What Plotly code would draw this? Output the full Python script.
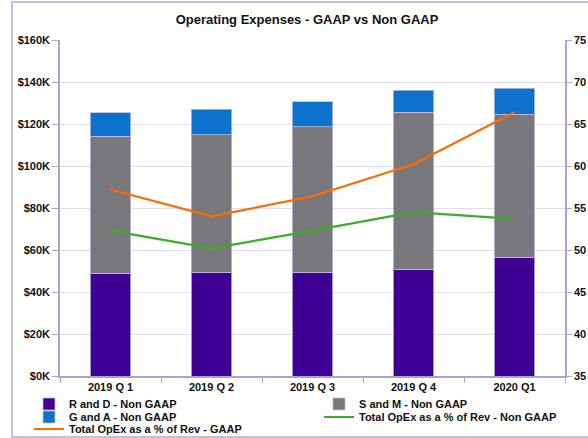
import plotly.graph_objects as go

categories = ["2019 Q 1", "2019 Q 2", "2019 Q 3", "2019 Q 4", "2020 Q1"]
rd_non_gaap = [49000, 49500, 49500, 50800, 56500]
sm_non_gaap = [65100, 65400, 69200, 74800, 68100]
ga_non_gaap = [11300, 12100, 12000, 10400, 12400]
opex_pct_non_gaap = [52.3, 50.2, 52.3, 54.5, 53.7]
opex_pct_gaap = [57.2, 54.0, 56.4, 60.2, 66.4]
left_tickvals = [0, 20000, 40000, 60000, 80000, 100000, 120000, 140000, 160000]
left_ticktext = ["$0K", "$20K", "$40K", "$60K", "$80K", "$100K", "$120K", "$140K", "$160K"]

FONT = "Liberation Sans, Arial, sans-serif"
edge = dict(color="rgba(190,186,225,0.8)", width=1)

fig = go.Figure()
fig.add_trace(go.Bar(x=categories, y=rd_non_gaap, name="R and D - Non GAAP",
                     marker=dict(color="#3e0095", line=edge), width=0.4, legend="legend"))
fig.add_trace(go.Bar(x=categories, y=sm_non_gaap, name="S and M - Non GAAP",
                     marker=dict(color="#78777c", line=edge), width=0.4, legend="legend2"))
fig.add_trace(go.Bar(x=categories, y=ga_non_gaap, name="G and A - Non GAAP",
                     marker=dict(color="#0b72cd", line=edge), width=0.4, legend="legend3"))
fig.add_trace(go.Scatter(x=categories, y=opex_pct_non_gaap, name="Total OpEx as a % of Rev - Non GAAP",
                         mode="lines", line=dict(color="#3aae24", width=2.2), yaxis="y2", legend="legend4"))
fig.add_trace(go.Scatter(x=categories, y=opex_pct_gaap, name="Total OpEx as a % of Rev - GAAP",
                         mode="lines", line=dict(color="#ff6a00", width=2.2), yaxis="y2", legend="legend5"))

tickfont = dict(family=FONT, size=11, color="#111111", weight="bold")
axcol = "#aaa3d0"
gridcol = "#e0deee"

def leg(x, y):
    return dict(x=x, y=y, xanchor="left", yanchor="middle", orientation="h",
                bgcolor="rgba(0,0,0,0)", font=dict(family=FONT, size=11, color="#111111", weight="bold"),
                itemwidth=30, traceorder="normal")

plot_l, plot_r, plot_t, plot_b = 60, 565, 40, 376
pw, ph = plot_r - plot_l, plot_b - plot_t
def px(xp):
    return (xp - plot_l) / pw
def py(yp):
    return (plot_b - yp) / ph

fig.update_layout(
    width=588, height=438,
    barmode="stack",
    showlegend=True,
    paper_bgcolor="white", plot_bgcolor="white",
    margin=dict(l=plot_l, r=588 - plot_r, t=plot_t, b=438 - plot_b, autoexpand=False),
    title=dict(text="Operating Expenses - GAAP vs Non GAAP", x=307 / 588, xanchor="center",
               y=1 - 19 / 438, yanchor="middle",
               font=dict(family=FONT, size=13, color="#111111", weight="bold")),
    xaxis=dict(tickfont=tickfont, showline=True, linecolor=axcol, linewidth=1.5,
               ticks="outside", ticklen=5, tickcolor=axcol, tickson="boundaries",
               showgrid=False, range=[-0.5, 4.5]),
    yaxis=dict(range=[0, 160000], tickvals=left_tickvals, ticktext=left_ticktext,
               tickfont=tickfont, showline=True, linecolor=axcol, linewidth=1.5,
               ticks="outside", ticklen=6, tickcolor=axcol,
               showgrid=True, gridcolor=gridcol, gridwidth=1, zeroline=False),
    yaxis2=dict(range=[35, 75], dtick=5, overlaying="y", side="right",
                tickfont=tickfont, showline=True, linecolor=axcol, linewidth=1.5,
                ticks="outside", ticklen=5, tickcolor=axcol, showgrid=False, zeroline=False),
    legend=leg(px(29), py(404)),
    legend2=leg(px(319), py(404)),
    legend3=leg(px(29), py(417)),
    legend4=leg(px(319), py(417)),
    legend5=leg(px(29), py(429)),
    shapes=[dict(type="rect", xref="paper", yref="paper",
                 x0=px(12), x1=px(600), y0=py(437), y1=py(2),
                 line=dict(color="#c4c0dc", width=2), fillcolor="rgba(0,0,0,0)", layer="below")],
)

fig.write_html("out.html", config={"displayModeBar": False},
               post_script="document.body.style.margin='0';document.body.style.overflow='hidden';")
